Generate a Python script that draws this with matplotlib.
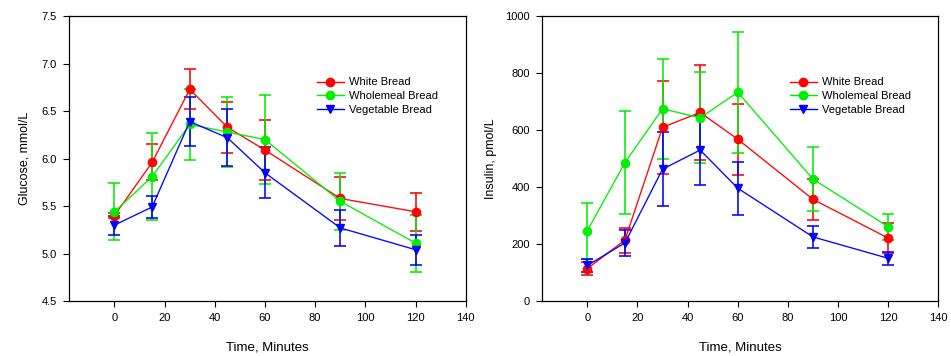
import numpy as np
import matplotlib
matplotlib.use("Agg")
import matplotlib.pyplot as plt
from matplotlib.lines import Line2D

plt.rcParams['font.family'] = ['Liberation Sans', 'DejaVu Sans']

# ── Data ───────────────────────────────────────────────────────
time = [0, 15, 30, 45, 60, 90, 120]
series = ['White Bread', 'Wholemeal Bread', 'Vegetable Bread']

glucose_white     = [5.40, 5.96, 6.73, 6.33, 6.09, 5.58, 5.44]
glucose_white_err = [0.03, 0.19, 0.21, 0.27, 0.32, 0.23, 0.20]
glucose_whole     = [5.44, 5.81, 6.36, 6.28, 6.20, 5.55, 5.11]
glucose_whole_err = [0.30, 0.46, 0.37, 0.37, 0.47, 0.30, 0.30]
glucose_veg       = [5.30, 5.49, 6.39, 6.22, 5.85, 5.27, 5.04]
glucose_veg_err   = [0.10, 0.12, 0.26, 0.30, 0.27, 0.19, 0.16]

insulin_white     = [114, 214, 610, 662, 568, 357, 221]
insulin_white_err = [22, 44, 164, 168, 125, 72, 52]
insulin_whole     = [247, 486, 675, 643, 733, 428, 261]
insulin_whole_err = [98, 180, 175, 160, 212, 113, 46]
insulin_veg       = [125, 204, 463, 530, 396, 225, 150]
insulin_veg_err   = [24, 47, 129, 124, 93, 40, 22]

RED, GREEN, BLUE = '#ff0000', '#00ee00', '#0000ff'

fig = plt.figure(figsize=(9.51, 3.56), dpi=100)
ax1 = fig.add_axes([0.0729, 0.1545, 0.4168, 0.8])
ax2 = fig.add_axes([0.5702, 0.1545, 0.4164, 0.8])


def draw(ax, data):
    handles = []
    for (y, err, color, marker, label) in data:
        ax.errorbar(time, y, yerr=err, color=color, ecolor=color, lw=1,
                    elinewidth=1.2, capsize=4, capthick=1.2, marker=marker,
                    ms=6, mec=color, mfc=color, alpha=0.95)
        handles.append(Line2D([], [], color=color, lw=1, marker=marker,
                              ms=6, mec=color, mfc=color, label=label))
    ax.set_xlim(-18, 140)
    ax.set_xticks([0, 20, 40, 60, 80, 100, 120, 140])
    ax.tick_params(direction='out', length=4, width=0.8, labelsize=8,
                   pad=5, top=False, right=False)
    for s in ax.spines.values():
        s.set_linewidth(0.9)
    ax.set_xlabel('Time, Minutes', fontsize=9.5, labelpad=13)
    ax.legend(handles=handles, loc='upper left', bbox_to_anchor=(0.6, 0.82),
              frameon=False, fontsize=8, handlelength=2.4,
              labelspacing=0.35, handletextpad=0.5)


draw(ax1, [(glucose_white, glucose_white_err, RED, 'o', series[0]),
           (glucose_whole, glucose_whole_err, GREEN, 'o', series[1]),
           (glucose_veg, glucose_veg_err, BLUE, 'v', series[2])])
ax1.set_ylim(4.5, 7.5)
ax1.set_yticks(np.arange(4.5, 7.51, 0.5))
ax1.yaxis.set_major_formatter(matplotlib.ticker.FormatStrFormatter('%.1f'))
ax1.set_ylabel('Glucose, mmol/L', fontsize=9, labelpad=8)

draw(ax2, [(insulin_white, insulin_white_err, RED, 'o', series[0]),
           (insulin_whole, insulin_whole_err, GREEN, 'o', series[1]),
           (insulin_veg, insulin_veg_err, BLUE, 'v', series[2])])
ax2.set_ylim(0, 1000)
ax2.set_yticks(np.arange(0, 1001, 200))
ax2.set_ylabel('Insulin, pmol/L', fontsize=9, labelpad=6)

plt.savefig('out.png', dpi=100)
